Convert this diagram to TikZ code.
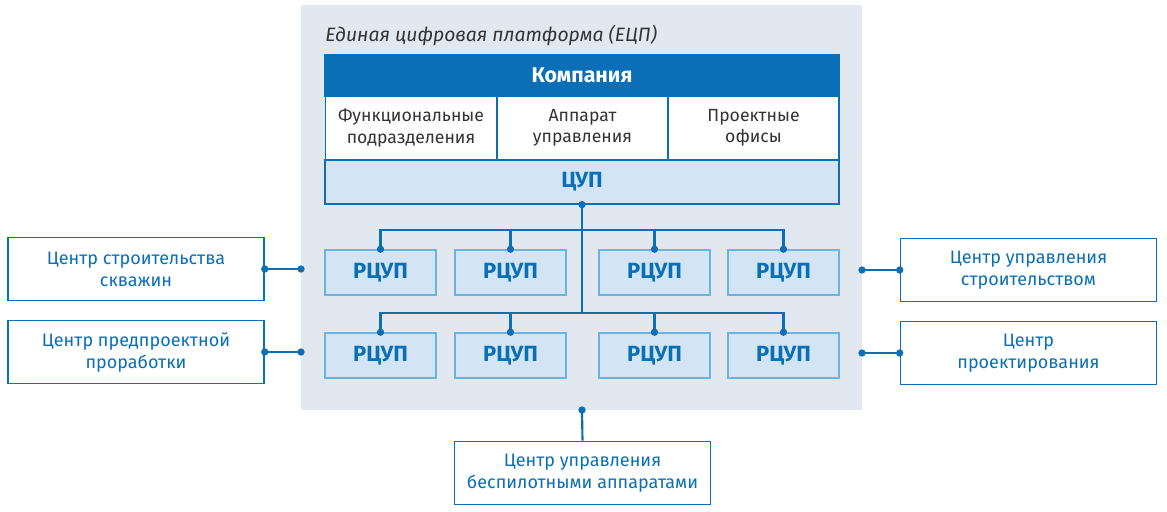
\documentclass[tikz,border=0pt]{standalone}
\usepackage{fontspec}
\setmainfont{Fira Sans}
\definecolor{bg}{HTML}{E1E8F0}
\definecolor{dblue}{HTML}{0A6FB6}
\definecolor{lblue}{HTML}{D3E5F4}
\definecolor{mblue}{HTML}{6DB3E0}
\definecolor{tgray}{HTML}{333333}
\begin{document}
\begin{tikzpicture}[x=0.75pt,y=-0.75pt,
  cell/.style={draw=dblue,line width=0.9pt,fill=white,text=tgray,font=\fontsize{13.2}{16}\selectfont,align=center,inner sep=0},
  rc/.style={draw=mblue,line width=1.2pt,fill=lblue,text=dblue,font=\bfseries\fontsize{16.5}{18}\selectfont,inner sep=0,minimum width=83.25pt,minimum height=33.75pt},
  side/.style={draw=dblue,line width=1.2pt,fill=white,text=dblue,font=\fontsize{13.5}{16.5}\selectfont,align=center,inner sep=0,minimum width=192pt,minimum height=47.5pt},
  ln/.style={dblue,line width=1.6pt},
  dot/.style={circle,fill=dblue,inner sep=0,minimum size=5.5pt}]
\useasboundingbox (0,0) rectangle (1167,511);
\fill[bg] (301,5) rectangle (862,410);
\node[anchor=west,text=tgray,font=\itshape\fontsize{14.5}{17}\selectfont,inner sep=0] (title) at (325,35) {Единая цифровая платформа (ЕЦП)};
\node[draw=dblue,fill=dblue,line width=0.9pt,text=white,font=\bfseries\fontsize{16}{18}\selectfont,minimum width=385.5pt,minimum height=30.75pt,inner sep=0] (comp) at (582,75.5) {Компания};
\node[cell,minimum width=128.25pt,minimum height=48pt] (c1) at (411,128) {Функциональные\\подразделения};
\node[cell,minimum width=128.25pt,minimum height=48pt] (c2) at (582.5,128) {Аппарат\\управления};
\node[cell,minimum width=128.25pt,minimum height=48pt] (c3) at (753.5,128) {Проектные\\офисы};
\node[draw=dblue,fill=lblue,line width=0.9pt,text=dblue,font=\bfseries\fontsize{16.5}{18}\selectfont,minimum width=385.5pt,minimum height=33pt,inner sep=0] (cup) at (582,182) {ЦУП};
\foreach \i/\x in {1/380.5,2/510.5,3/654.5,4/783.5}{
  \node[rc] (a\i) at (\x,272.5) {РЦУП};
  \node[rc] (b\i) at (\x,355.5) {РЦУП};
}
\coordinate (cupb) at (cup.south);
\coordinate (j1) at (582,230);
\coordinate (j2) at (582,313);
\draw[ln] (cupb) -- (j2);
\draw[ln] (a1.north) |- (j1) -| (a4.north);
\draw[ln] (a2.north) -- (a2.north |- j1);
\draw[ln] (a3.north) -- (a3.north |- j1);
\draw[ln] (b1.north) |- (j2) -| (b4.north);
\draw[ln] (b2.north) -- (b2.north |- j2);
\draw[ln] (b3.north) -- (b3.north |- j2);
\foreach \n in {cupb,a1.north,a2.north,a3.north,a4.north,b1.north,b2.north,b3.north,b4.north} \node[dot] at (\n) {};
\node[side] (l1) at (136,269) {Центр строительства\\скважин};
\node[side] (l2) at (136,352) {Центр предпроектной\\проработки};
\node[side] (r1) at (1028.5,270) {Центр управления\\строительством};
\node[side] (r2) at (1028.5,353) {Центр\\проектирования};
\node[side] (bt) at (582.5,473) {Центр управления\\беспилотными аппаратами};
\coordinate (pl1) at (301,269);
\coordinate (pl2) at (301,352);
\coordinate (pr1) at (862,270);
\coordinate (pr2) at (862,353);
\coordinate (pb) at (582,410);
\draw[ln] (l1.east) -- (pl1); \draw[ln] (l2.east) -- (pl2);
\draw[ln] (r1.west) -- (pr1); \draw[ln] (r2.west) -- (pr2);
\draw[ln] (bt.north) -- (pb);
\foreach \n in {l1.east,l2.east,r1.west,r2.west,pl1,pl2,pr1,pr2,pb} \node[dot] at (\n) {};
\end{tikzpicture}
\end{document}
